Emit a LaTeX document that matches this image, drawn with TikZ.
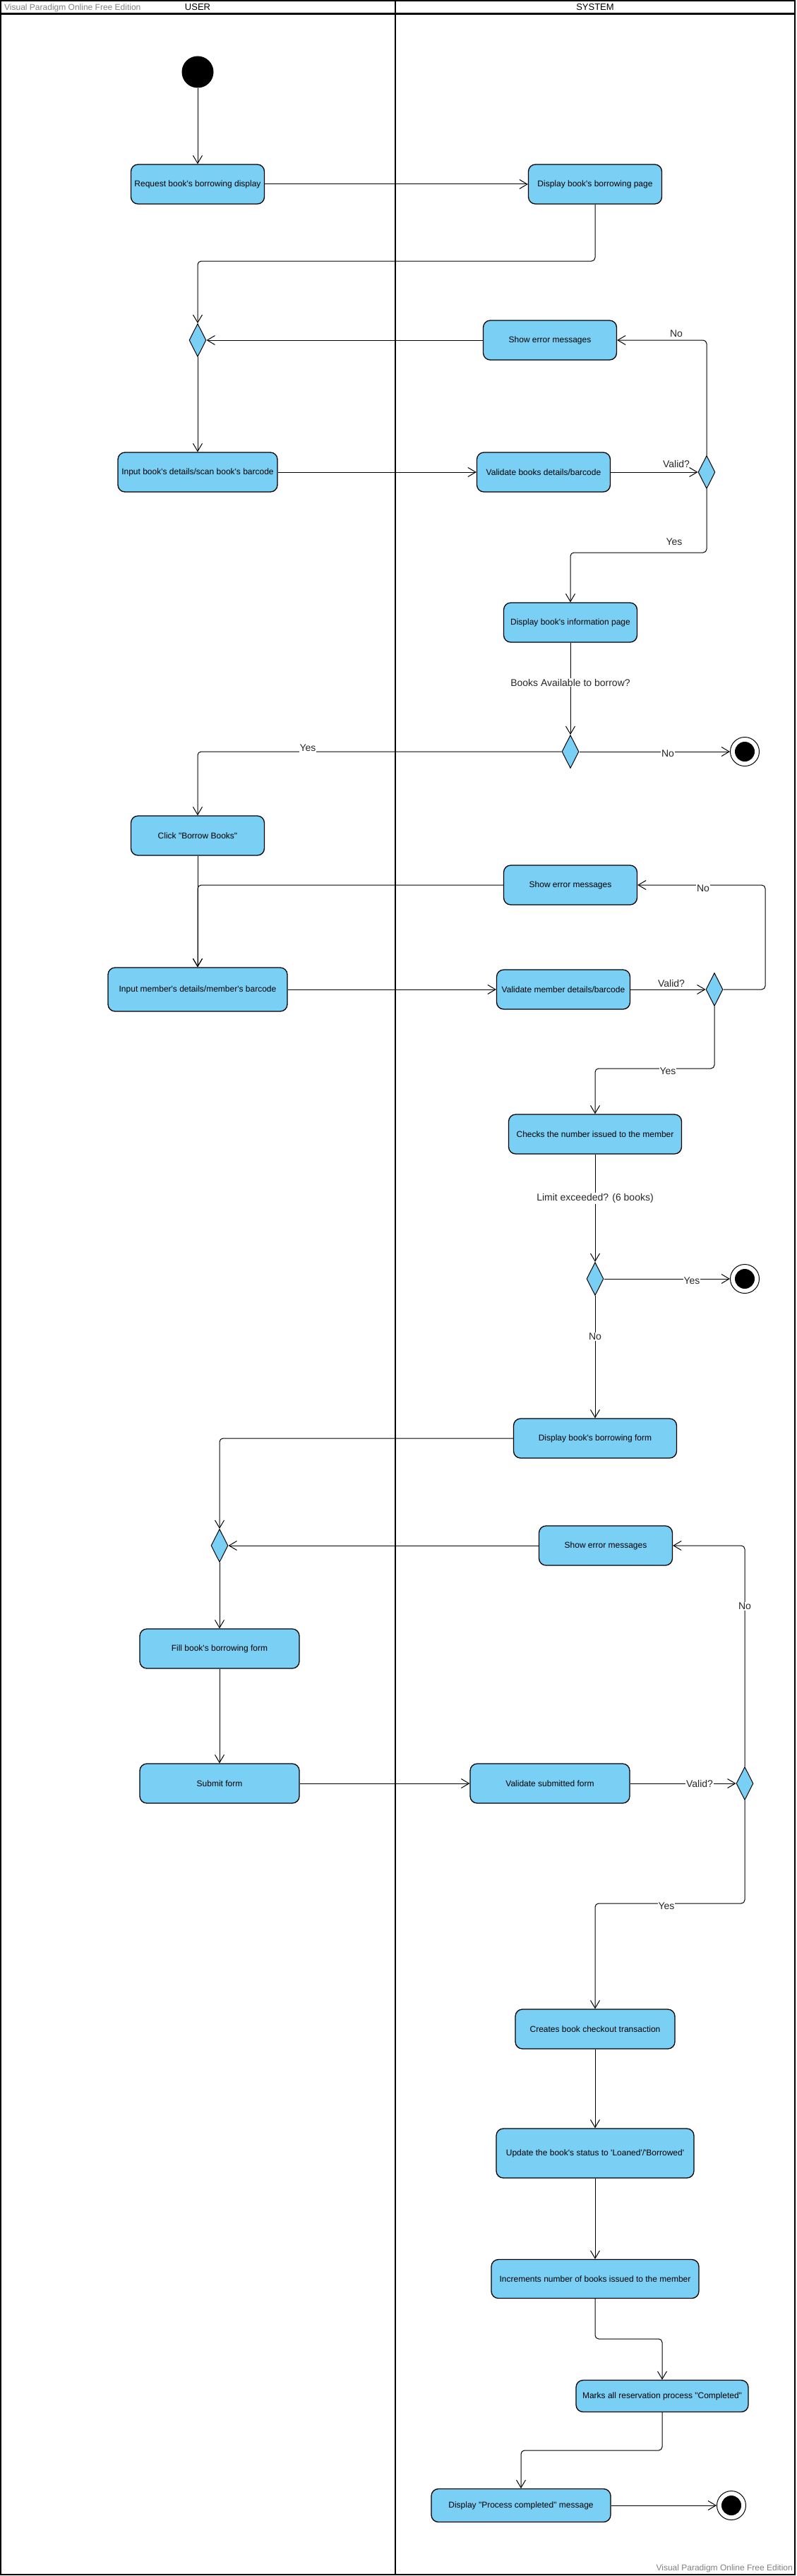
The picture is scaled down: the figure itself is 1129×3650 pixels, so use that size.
\documentclass[tikz,border=0pt]{standalone}
\usepackage{fontspec}
\setmainfont{Liberation Sans}
\newfontfamily\vp{Liberation Sans}
\usetikzlibrary{shapes.geometric,arrows.meta,calc}
\definecolor{vpblue}{RGB}{122,207,245}
\definecolor{wmgray}{RGB}{128,128,128}
\begin{document}
\begin{tikzpicture}[x=1pt,y=-1pt,
  act/.style={draw=black, line width=1.3pt, fill=vpblue, rounded corners=10pt, minimum height=56pt, align=center, inner sep=2pt, font=\vp\fontsize{12}{14}\selectfont},
  dec/.style={diamond, draw=black, line width=1pt, fill=vpblue, minimum width=24pt, minimum height=47pt, inner sep=0pt},
  fin/.style={circle, draw=black, line width=1pt, fill=white, minimum size=41pt, inner sep=0pt},
  flow/.style={line width=1pt, rounded corners=5pt, -{Straight Barb[length=11pt,width=13pt,line width=1pt]}},
  lbl/.style={font=\vp\fontsize{14}{16}\selectfont, text=black!85, inner sep=1pt},
  lblw/.style={lbl, fill=white},
  hdr/.style={font=\vp\fontsize{13}{15}\selectfont},
  wm/.style={font=\vp\fontsize{12}{14}\selectfont, text=wmgray, inner sep=0pt},
]
\useasboundingbox (0,0) rectangle (1129,3650);
% swimlanes
\draw[line width=2pt] (1,1) rectangle (1126,3648);
\draw[line width=2.5pt] (1,19.5) -- (1126,19.5);
\draw[line width=2pt] (560,1) -- (560,3648);
\node[wm, anchor=west] (wm1) at (6,11) {Visual Paradigm Online Free Edition};
\node[hdr] (huser) at (280,10.5) {USER};
\node[hdr] (hsys) at (843,10.5) {SYSTEM};
\node[wm, anchor=east] (wm2) at (1123,3639) {Visual Paradigm Online Free Edition};

% nodes
\node[circle, fill=black, minimum size=45pt, inner sep=0pt] (init) at (280,102) {};
\node[act, minimum width=189pt] (req) at (280,261) {Request book's borrowing display};
\node[act, minimum width=189pt] (dpage) at (843,261) {Display book's borrowing page};
\node[dec] (m1) at (280,482) {};
\node[act, minimum width=189pt] (err1) at (779,482) {Show error messages};
\node[act, minimum width=226pt] (inbook) at (280,669) {Input book's details/scan book's barcode};
\node[act, minimum width=189pt] (valbook) at (770,669) {Validate books details/barcode};
\node[dec] (d1) at (1001,669) {};
\node[act, minimum width=189pt] (info) at (808,882) {Display book's information page};
\node[dec] (d2) at (808,1065) {};
\node[fin] (f1) at (1055,1065) {};
\fill (f1) circle[radius=14pt];
\node[act, minimum width=189pt] (click) at (280,1184) {Click "Borrow Books"};
\node[act, minimum width=189pt] (err2) at (808,1254) {Show error messages};
\node[act, minimum width=254pt, minimum height=62pt] (inmem) at (280,1402) {Input member's details/member's barcode};
\node[act, minimum width=189pt] (valmem) at (798,1402) {Validate member details/barcode};
\node[dec] (d3) at (1012,1402) {};
\node[act, minimum width=245pt] (checks) at (843,1607) {Checks the number issued to the member};
\node[dec] (d4) at (843,1812) {};
\node[fin] (f2) at (1055,1812) {};
\fill (f2) circle[radius=14pt];
\node[act, minimum width=231pt] (dform) at (843,2038) {Display book's borrowing form};
\node[dec] (m2) at (311,2190) {};
\node[act, minimum width=189pt] (err3) at (858,2190) {Show error messages};
\node[act, minimum width=226pt] (fill) at (311,2336) {Fill book's borrowing form};
\node[act, minimum width=226pt] (submit) at (311,2527) {Submit form};
\node[act, minimum width=226pt] (valsub) at (779,2527) {Validate submitted form};
\node[dec] (d5) at (1055,2527) {};
\node[act, minimum width=226pt] (creates) at (843,2875) {Creates book checkout transaction};
\node[act, minimum width=280pt, minimum height=70pt] (update) at (843,3051) {Update the book's status to 'Loaned'/'Borrowed'};
\node[act, minimum width=294pt, minimum height=55pt] (incr) at (843,3229) {Increments number of books issued to the member};
\node[act, minimum width=244pt, minimum height=45pt] (marks) at (938,3395) {Marks all reservation process "Completed"};
\node[act, minimum width=254pt, minimum height=47pt] (dproc) at (738,3550) {Display "Process completed" message};
\node[fin] (f3) at (1036,3550) {};
\fill (f3) circle[radius=14pt];

% bend points
\coordinate (c1) at (843,370);
\coordinate (c2) at (1001,783);
\coordinate (c3) at (1084,1402);
\coordinate (c4) at (1012,1514);
\coordinate (c5) at (1055,2697);
\coordinate (c6) at (843,3314);
\coordinate (c7) at (938,3472);

% connectors
\draw[flow] (init) -- (req);
\draw[flow] (req) -- (dpage);
\draw[flow] (dpage.south) -- (c1) -| (m1.north);
\draw[flow] (err1) -- (m1);
\draw[flow] (m1) -- (inbook);
\draw[flow] (inbook) -- (valbook);
\draw[flow] (valbook) -- (d1);
\draw[flow] (d1.north) |- (err1.east);
\draw[flow] (d1.south) -- (c2) -| (info.north);
\draw[flow] (info) -- (d2);
\draw[flow] (d2) -- (f1);
\draw[flow] (d2.west) -| (click.north);
\draw[flow] (click) -- (inmem);
\draw[flow] (err2.west) -| (inmem.north);
\draw[flow] (inmem) -- (valmem);
\draw[flow] (valmem) -- (d3);
\draw[flow] (d3.east) -- (c3) |- (err2.east);
\draw[flow] (d3.south) -- (c4) -| (checks.north);
\draw[flow] (checks) -- (d4);
\draw[flow] (d4) -- (f2);
\draw[flow] (d4) -- (dform);
\draw[flow] (dform.west) -| (m2.north);
\draw[flow] (err3) -- (m2);
\draw[flow] (m2) -- (fill);
\draw[flow] (fill) -- (submit);
\draw[flow] (submit) -- (valsub);
\draw[flow] (valsub) -- (d5);
\draw[flow] (d5.north) |- (err3.east);
\draw[flow] (d5.south) -- (c5) -| (creates.north);
\draw[flow] (creates) -- (update);
\draw[flow] (update) -- (incr);
\draw[flow] (incr.south) -- (c6) -| (marks.north);
\draw[flow] (marks.south) -- (c7) -| (dproc.north);
\draw[flow] (dproc) -- (f3);

% labels
\node[lbl] (l1) at (958,657) {Valid?};
\node[lbl] (l2) at (958,473) {No};
\node[lbl] (l3) at (955,768) {Yes};
\node[lblw] (l4) at (808,967) {Books Available to borrow?};
\node[lblw] (l5) at (946,1068) {No};
\node[lblw] (l6) at (436,1060) {Yes};
\node[lbl] (l7) at (951,1393) {Valid?};
\node[lblw] (l8) at (996,1259) {No};
\node[lblw] (l9) at (946,1518) {Yes};
\node[lblw] (l10) at (843,1698) {Limit exceeded? (6 books)};
\node[lblw] (l11) at (980,1815) {Yes};
\node[lblw] (l12) at (843,1894) {No};
\node[lblw] (l13) at (1055,2276) {No};
\node[lblw] (l14) at (991,2527) {Valid?};
\node[lblw] (l15) at (944,2701) {Yes};
\end{tikzpicture}
\end{document}
